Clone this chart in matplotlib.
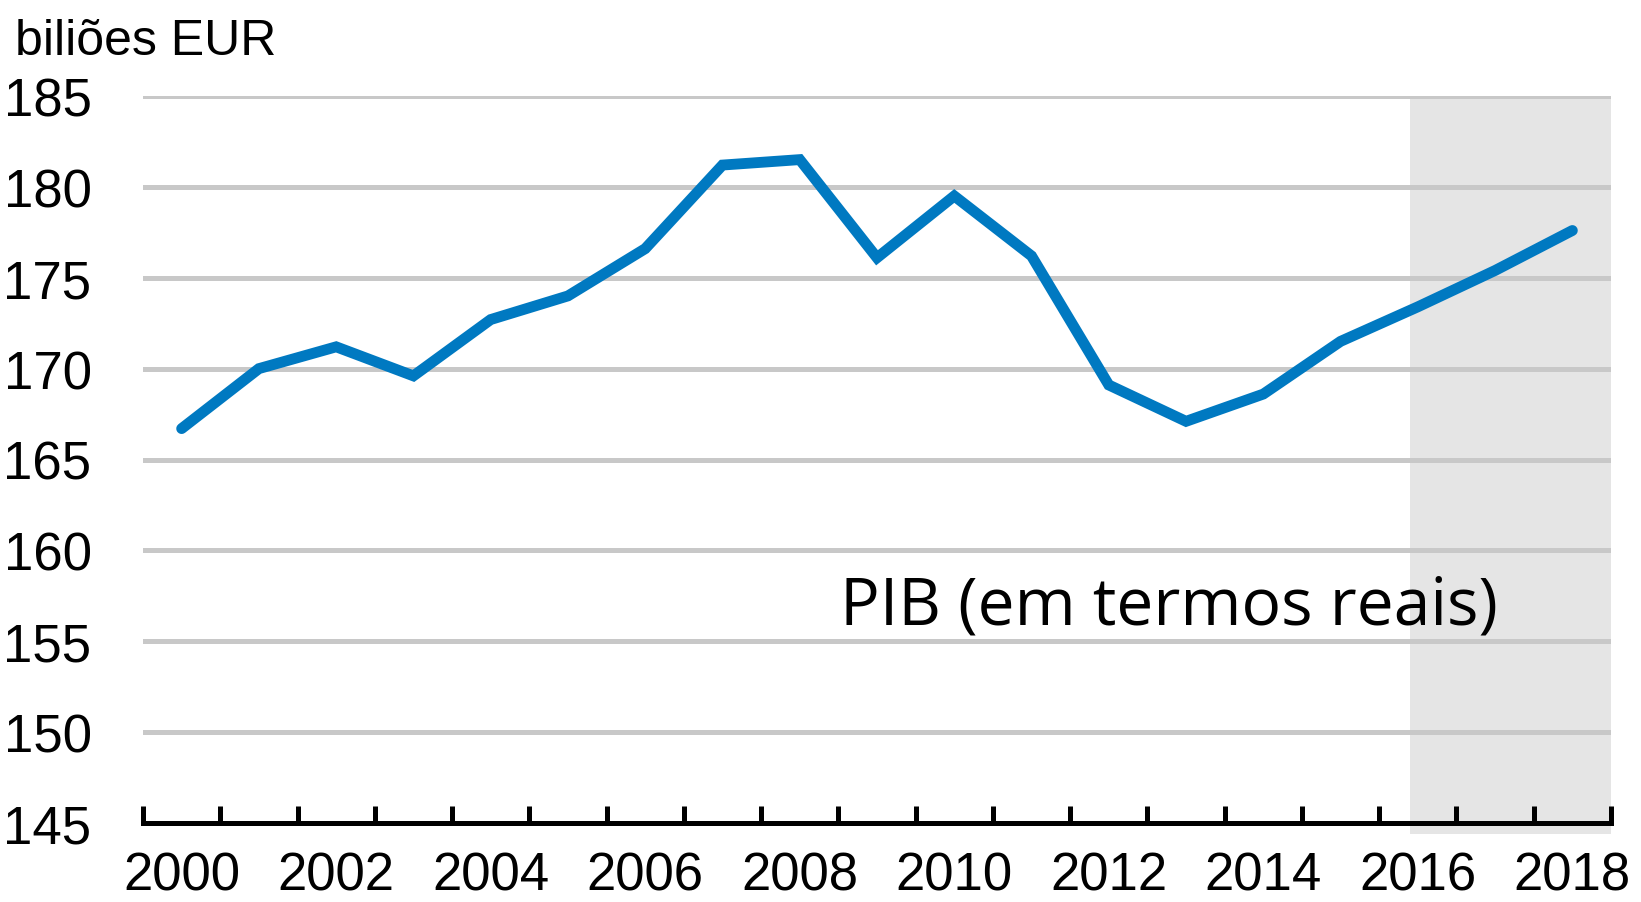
import numpy as np
import matplotlib.pyplot as plt
from matplotlib.patches import Rectangle

years = [str(y) for y in range(2000, 2019)]
gdp = [166.7, 170.0, 171.2, 169.6, 172.7, 174.0, 176.6, 181.2, 181.5, 176.1,
       179.5, 176.2, 169.1, 167.1, 168.6, 171.5, 173.4, 175.4, 177.6]
y_ticks = [145, 150, 155, 160, 165, 170, 175, 180, 185]
unit_label = 'biliões EUR'
series_label = 'PIB (em termos reais)'
forecast_start = '2016'

# no narrow Arial available, so plain Liberation Sans
arial = ['Liberation Sans', 'DejaVu Sans']

fig = plt.figure(figsize=(16.41, 9.03), dpi=100)
ax = fig.add_axes([143 / 1641, 1 - 824 / 903, (1611 - 143) / 1641, (824 - 97) / 903])

x = np.arange(len(years))

#* shaded projection area
i0 = years.index(forecast_start)
ax.add_patch(Rectangle((i0 - 0.1, 144.4), len(years) - 0.5 - (i0 - 0.1), 185 - 144.4,
                       facecolor='#e5e5e5', edgecolor='none', zorder=0, clip_on=False))

#* gridlines
for v in y_ticks[1:]:
    ax.axhline(v, color='#c8c8c8', lw=3.6, zorder=1)

ax.plot(x, gdp, color='#0079c1', lw=7.8, solid_capstyle='round', solid_joinstyle='miter', zorder=3)

ax.set_xlim(-0.5, len(years) - 0.5)
ax.set_ylim(145, 185)

for s in ['top', 'right', 'left']:
    ax.spines[s].set_visible(False)
ax.spines['bottom'].set_linewidth(3.6)
ax.spines['bottom'].set_zorder(4)

ax.set_xticks(x[::2])
ax.set_xticklabels(years[::2], fontfamily=arial, fontsize=38)
ax.set_xticks(np.arange(-0.5, len(years)), minor=True)
ax.tick_params(axis='x', which='major', length=0, pad=20)
ax.tick_params(axis='x', which='minor', direction='in', length=12, width=3.6)

ax.set_yticks(y_ticks)
ax.set_yticklabels([str(v) for v in y_ticks], fontfamily=arial, fontsize=38)
ax.tick_params(axis='y', length=0, pad=37)

ax.text(8.52, 156.0, series_label, fontfamily=['Open Sans', 'DejaVu Sans'], fontsize=47.5,
        ha='left', va='baseline', zorder=5)

fig.text(15 / 1641, 1 - 55 / 903, unit_label, fontfamily=arial, fontsize=36,
         ha='left', va='baseline')

fig.savefig('out.png', dpi=100)
